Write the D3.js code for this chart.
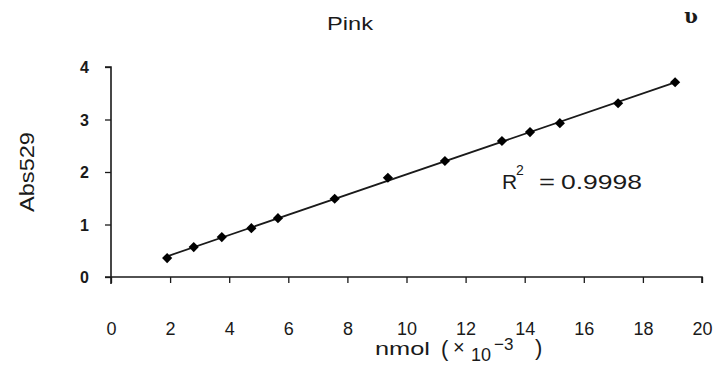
<!DOCTYPE html>
<html>
<head>
<meta charset="utf-8">
<script src="https://cdn.jsdelivr.net/npm/d3@7"></script>
<style>
  html, body { margin: 0; padding: 0; background: #fff; }
  svg { display: block; }
  text { font-family: "Liberation Sans", Arial, sans-serif; fill: #1a1a1a; }
</style>
</head>
<body>
<script>
// ---- data ----
const nmolValues = [1.9, 2.8, 3.75, 4.75, 5.65, 7.57, 9.37, 11.3, 13.23, 14.18, 15.19, 17.16, 19.09];
const absValues  = [0.36, 0.57, 0.76, 0.93, 1.12, 1.49, 1.89, 2.21, 2.59, 2.76, 2.93, 3.31, 3.71];
const xTicks = [0, 2, 4, 6, 8, 10, 12, 14, 16, 18, 20];
const yTicks = [0, 1, 2, 3, 4];
const chartTitle = "Pink";
const yTitle = "Abs529";
const r2Text = "0.9998";

const W = 723, H = 371;
const svg = d3.select("body").append("svg").attr("width", W).attr("height", H);

const x = d3.scaleLinear().domain([0, 20]).range([111, 702]);
const y = d3.scaleLinear().domain([0, 4]).range([277, 67]);

const ink = "#1a1a1a";

// y axis
const yAxis = d3.axisLeft(y).tickValues(yTicks).tickSize(6).tickFormat(d3.format("d"));
const gy = svg.append("g").attr("transform", `translate(${x(0)},0)`).call(yAxis);
gy.select(".domain").attr("stroke", ink).attr("stroke-width", 1.6)
  .attr("d", `M-6,${y(4)}H0V${y(0) + 7}`);
gy.selectAll(".tick line").attr("stroke", ink).attr("stroke-width", 1.3);
gy.selectAll(".tick text").attr("x", -22).style("font-size", "16px").style("font-weight", "bold")
  .attr("dy", "0.35em").attr("fill", ink);

// x axis
const xAxis = d3.axisBottom(x).tickValues(xTicks).tickSize(6).tickFormat(d3.format("d"));
const gx = svg.append("g").attr("transform", `translate(0,${y(0)})`).call(xAxis);
gx.select(".domain").attr("stroke", ink).attr("stroke-width", 1.6)
  .attr("d", `M${x(0) - 6},0H${x(20)}V6`);
gx.selectAll(".tick line").attr("stroke", ink).attr("stroke-width", 1.3);
gx.selectAll(".tick text").attr("y", 45).attr("dy", "0.71em").style("font-size", "18px").attr("fill", ink);

// regression line (least squares from the data)
const mx = d3.mean(nmolValues), my = d3.mean(absValues);
const slope = d3.sum(nmolValues.map((v, i) => (v - mx) * (absValues[i] - my))) /
              d3.sum(nmolValues.map(v => (v - mx) * (v - mx)));
const icpt = my - slope * mx;
const x0 = d3.min(nmolValues), x1 = d3.max(nmolValues);
svg.append("line")
  .attr("x1", x(x0)).attr("y1", y(icpt + slope * x0))
  .attr("x2", x(x1)).attr("y2", y(icpt + slope * x1))
  .attr("stroke", ink).attr("stroke-width", 1.8);

// markers: square rotated 45° -> diamond of equal width and height
const diamond = d3.symbol().type(d3.symbolSquare).size(52);
svg.append("g").selectAll("path").data(nmolValues).join("path")
  .attr("d", diamond)
  .attr("transform", (d, i) => `translate(${x(d)},${y(absValues[i])}) rotate(45)`)
  .attr("fill", "#000");

// title
svg.append("text").attr("x", 327).attr("y", 30)
  .attr("textLength", 46).attr("lengthAdjust", "spacingAndGlyphs")
  .style("font-size", "18px").text(chartTitle);

// y title
svg.append("text").attr("transform", "translate(34,172) rotate(-90)")
  .attr("text-anchor", "middle")
  .attr("textLength", 80).attr("lengthAdjust", "spacingAndGlyphs")
  .style("font-size", "20px").text(yTitle);

// x title
svg.append("text").attr("x", 375).attr("y", 355)
  .attr("textLength", 55).attr("lengthAdjust", "spacingAndGlyphs")
  .style("font-size", "19px").text("nmol");
svg.append("text").attr("x", 441).attr("y", 356).style("font-size", "22px").text("(");
svg.append("text").attr("x", 453).attr("y", 354).style("font-size", "20px").text("×");
svg.append("text").attr("x", 471).attr("y", 361).style("font-size", "18px").text("10");
svg.append("text").attr("x", 494).attr("y", 350).style("font-size", "17px").text("−3");
svg.append("text").attr("x", 535).attr("y", 355).style("font-size", "22px").text(")");

// R^2 annotation
svg.append("text").attr("x", 502).attr("y", 189).style("font-size", "21px").text("R");
svg.append("text").attr("x", 516).attr("y", 175).style("font-size", "14px").text("2");
svg.append("text").attr("x", 539).attr("y", 189)
  .attr("textLength", 16).attr("lengthAdjust", "spacingAndGlyphs")
  .style("font-size", "21px").text("=");
svg.append("text").attr("x", 561).attr("y", 189)
  .attr("textLength", 81).attr("lengthAdjust", "spacingAndGlyphs")
  .style("font-size", "21px").text(r2Text);

// handwritten mark, top right
svg.append("text").attr("x", 684).attr("y", 23)
  .style("font-family", "'DejaVu Serif', serif").style("font-weight", "bold")
  .style("font-size", "20px").text("ʋ");
</script>
</body>
</html>
